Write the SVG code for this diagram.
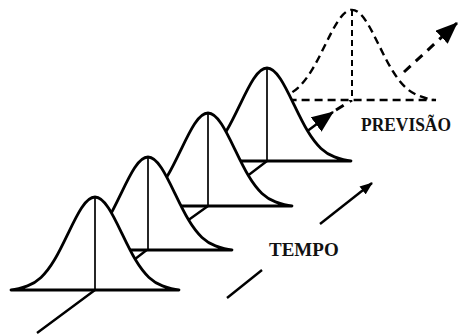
<svg xmlns="http://www.w3.org/2000/svg" xmlns:xlink="http://www.w3.org/1999/xlink" width="458" height="335" viewBox="0 0 458 335">
<style>
.bell{fill:#fff;stroke:#000;stroke-width:2.8;stroke-linejoin:round}
.fbell{fill:#fff;stroke:#000;stroke-width:2.4;stroke-dasharray:8 5}
.vert{stroke:#000;stroke-width:1.7}
.fvert{stroke:#000;stroke-width:2;stroke-dasharray:6 4}
.ax{fill:none;stroke:#000;stroke-width:2.4}
.dash{fill:none;stroke:#000;stroke-width:3;stroke-dasharray:9 7}
.lbl{font-family:"Liberation Serif","Times New Roman",serif;font-weight:bold;font-size:19px;fill:#111}
</style>
<defs>
<path id="bell" d="M-84,0 C-78.5,-0.4 -73,-2 -67.5,-4.08 C-63,-5.78 -58.5,-8.39 -54,-12.58 C-49.5,-16.77 -45,-22.65 -40.5,-30.2 C-36,-37.75 -31.5,-47 -27,-56.4 C-22.5,-65.8 -18,-75.23 -13.5,-82.07 C-9,-88.91 -4.5,-93 0,-93 C4.5,-93 9,-88.91 13.5,-82.07 C18,-75.23 22.5,-65.8 27,-56.4 C31.5,-47 36,-37.75 40.5,-30.2 C45,-22.65 49.5,-16.77 54,-12.58 C58.5,-8.39 63,-5.78 67.5,-4.08 C73,-2 78.5,-0.4 84,0 Z"/>
<marker id="big" markerUnits="userSpaceOnUse" viewBox="0 0 22 18" markerWidth="22" markerHeight="18" refX="21" refY="9" orient="auto">
<path d="M0,0 L22,9 L0,18 Z" fill="#000"/>
</marker>
<marker id="small" markerUnits="userSpaceOnUse" viewBox="0 0 13 10" markerWidth="13" markerHeight="10" refX="12" refY="5" orient="auto">
<path d="M0,0 L13,5 L0,10 Z" fill="#000"/>
</marker>
</defs>
<g id="connectors">
<path class="ax" d="M37,333 L95,290 L148,249 L208,206 L267,161 L333,112" marker-end="url(#big)"/>
<path class="dash" d="M336,110 L352,100" stroke-dasharray="7 4" stroke-width="2.4"/>
<path class="dash" d="M404,72 L457,23" marker-end="url(#big)"/>
<path class="ax" d="M227,298 L262,270"/>
<path class="ax" d="M320,224 L372,183" marker-end="url(#small)"/>
</g>
<g id="previsao-curve">
<use xlink:href="#bell" class="fbell" transform="translate(352,100) scale(1,0.97)"/>
<line class="fvert" x1="352" y1="10" x2="352" y2="100"/>
</g>
<g id="curve4">
<use xlink:href="#bell" class="bell" transform="translate(267,161)"/>
<line class="vert" x1="267" y1="68" x2="267" y2="161"/>
</g>
<g id="curve3">
<use xlink:href="#bell" class="bell" transform="translate(208,206)"/>
<line class="vert" x1="208" y1="113" x2="208" y2="206"/>
</g>
<g id="curve2">
<use xlink:href="#bell" class="bell" transform="translate(148,250)"/>
<line class="vert" x1="148" y1="157" x2="148" y2="250"/>
</g>
<g id="curve1">
<use xlink:href="#bell" class="bell" transform="translate(95,290)"/>
<line class="vert" x1="95" y1="197" x2="95" y2="290"/>
</g>
<g id="labels">
<text class="lbl" x="361" y="131" textLength="90" lengthAdjust="spacingAndGlyphs">PREVISÃO</text>
<text class="lbl" x="269" y="256">TEMPO</text>
</g>
</svg>
